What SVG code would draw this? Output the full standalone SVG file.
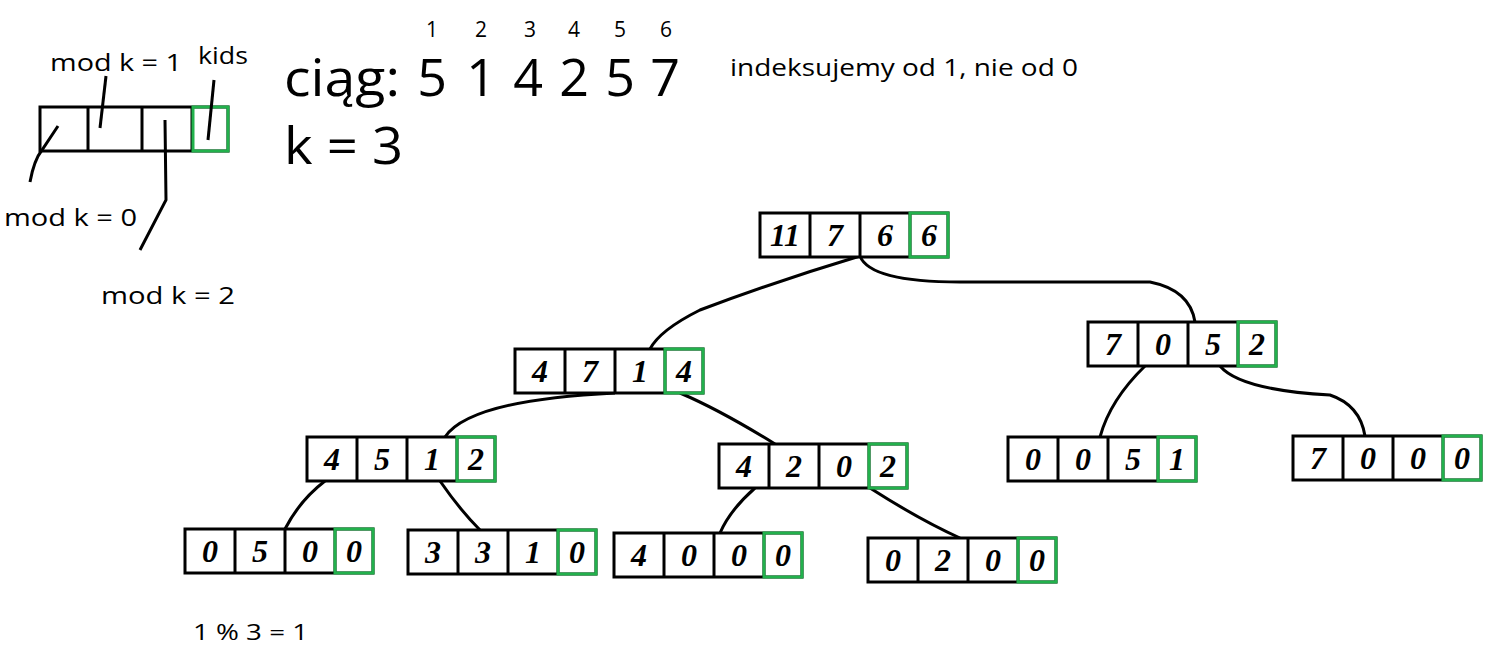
<svg xmlns="http://www.w3.org/2000/svg" width="1505" height="654" viewBox="0 0 1505 654">
<style>
.c{fill:#fff;stroke:#000;stroke-width:3}
.g{fill:none;stroke:#22b14c;stroke-width:3}
.v{font-family:"Liberation Serif",serif;font-size:32px;font-weight:bold;text-anchor:middle;font-style:italic}
.t{font-family:"Open Sans","Liberation Sans",sans-serif;fill:#000}
.l{fill:none;stroke:#000;stroke-width:3}
</style>
<rect width="1505" height="654" fill="#fff"/>
<defs>
<g id="box">
<rect class="c" x="0" y="0" width="188" height="44"/>
<line class="c" x1="50" y1="0" x2="50" y2="44"/><line class="c" x1="100" y1="0" x2="100" y2="44"/><line class="c" x1="150" y1="0" x2="150" y2="44"/>
<rect class="g" x="150" y="0" width="38" height="44"/>
</g>
</defs>
<g id="legend">
<rect class="c" x="40" y="107" width="188" height="44"/>
<line class="c" x1="88" y1="107" x2="88" y2="151"/><line class="c" x1="142" y1="107" x2="142" y2="151"/><line class="c" x1="192" y1="107" x2="192" y2="151"/>
<rect class="g" x="193" y="107" width="35" height="44"/>
<path class="l" d="M58 126 L42 150 Q34 160 30 182"/>
<path class="l" d="M100 128 L106 76"/>
<path class="l" d="M165 120 L166 200 L140 250"/>
<path class="l" d="M208 140 L214 80"/>
<text class="t" x="50" y="71" font-size="23" textLength="132" lengthAdjust="spacingAndGlyphs">mod k = 1</text>
<text class="t" x="198" y="64" font-size="23" textLength="50" lengthAdjust="spacingAndGlyphs">kids</text>
<text class="t" x="4" y="226" font-size="23" textLength="133" lengthAdjust="spacingAndGlyphs">mod k = 0</text>
<text class="t" x="101" y="304" font-size="23" textLength="134" lengthAdjust="spacingAndGlyphs">mod k = 2</text>
</g>
<g id="header" class="t">
<text x="284" y="96" font-size="52" textLength="116" lengthAdjust="spacingAndGlyphs">ciąg:</text>
<g font-size="52" text-anchor="middle"><text x="432" y="96">5</text><text x="481" y="96">1</text><text x="528" y="96">4</text><text x="574" y="96">2</text><text x="620" y="96">5</text><text x="665" y="96">7</text></g>
<text x="284" y="164" font-size="52" textLength="119" lengthAdjust="spacingAndGlyphs">k = 3</text>
<g font-size="21" text-anchor="middle"><text x="432" y="37">1</text><text x="481" y="37">2</text><text x="530" y="37">3</text><text x="574" y="37">4</text><text x="620" y="37">5</text><text x="666" y="37">6</text></g>
<text x="730" y="76" font-size="23" textLength="348" lengthAdjust="spacingAndGlyphs">indeksujemy od 1, nie od 0</text>
<text x="193" y="640" font-size="21" textLength="115" lengthAdjust="spacingAndGlyphs">1 % 3 = 1</text>
</g>
<g id="connectors">
<path class="l" d="M860 256 Q780 280 700 310 Q660 330 650 349"/>
<path class="l" d="M860 256 Q870 282 960 282 L1150 282 Q1190 290 1195 322"/>
<path class="l" d="M615 393 Q470 400 445 437"/>
<path class="l" d="M680 393 Q720 410 775 444"/>
<path class="l" d="M325 481 Q300 500 285 529"/>
<path class="l" d="M440 481 Q460 510 480 530"/>
<path class="l" d="M1145 366 Q1110 400 1100 437"/>
<path class="l" d="M1220 366 Q1240 390 1330 395 Q1360 405 1365 436"/>
<path class="l" d="M755 488 Q730 510 720 533"/>
<path class="l" d="M870 488 Q920 520 960 538"/>
</g>
<g id="n1" transform="translate(760,213)"><use href="#box"/><g class="v"><text x="25" y="33">11</text><text x="75" y="33">7</text><text x="125" y="33">6</text><text x="169" y="33">6</text></g></g>
<g id="n2" transform="translate(515,349)"><use href="#box"/><g class="v"><text x="25" y="33">4</text><text x="75" y="33">7</text><text x="125" y="33">1</text><text x="169" y="33">4</text></g></g>
<g id="n3" transform="translate(1088,322)"><use href="#box"/><g class="v"><text x="25" y="33">7</text><text x="75" y="33">0</text><text x="125" y="33">5</text><text x="169" y="33">2</text></g></g>
<g id="n4" transform="translate(307,437)"><use href="#box"/><g class="v"><text x="25" y="33">4</text><text x="75" y="33">5</text><text x="125" y="33">1</text><text x="169" y="33">2</text></g></g>
<g id="n5" transform="translate(719,444)"><use href="#box"/><g class="v"><text x="25" y="33">4</text><text x="75" y="33">2</text><text x="125" y="33">0</text><text x="169" y="33">2</text></g></g>
<g id="n6" transform="translate(1008,437)"><use href="#box"/><g class="v"><text x="25" y="33">0</text><text x="75" y="33">0</text><text x="125" y="33">5</text><text x="169" y="33">1</text></g></g>
<g id="n7" transform="translate(1293,436)"><use href="#box"/><g class="v"><text x="25" y="33">7</text><text x="75" y="33">0</text><text x="125" y="33">0</text><text x="169" y="33">0</text></g></g>
<g id="n8" transform="translate(185,529)"><use href="#box"/><g class="v"><text x="25" y="33">0</text><text x="75" y="33">5</text><text x="125" y="33">0</text><text x="169" y="33">0</text></g></g>
<g id="n9" transform="translate(408,530)"><use href="#box"/><g class="v"><text x="25" y="33">3</text><text x="75" y="33">3</text><text x="125" y="33">1</text><text x="169" y="33">0</text></g></g>
<g id="n10" transform="translate(614,533)"><use href="#box"/><g class="v"><text x="25" y="33">4</text><text x="75" y="33">0</text><text x="125" y="33">0</text><text x="169" y="33">0</text></g></g>
<g id="n11" transform="translate(868,538)"><use href="#box"/><g class="v"><text x="25" y="33">0</text><text x="75" y="33">2</text><text x="125" y="33">0</text><text x="169" y="33">0</text></g></g>
</svg>
